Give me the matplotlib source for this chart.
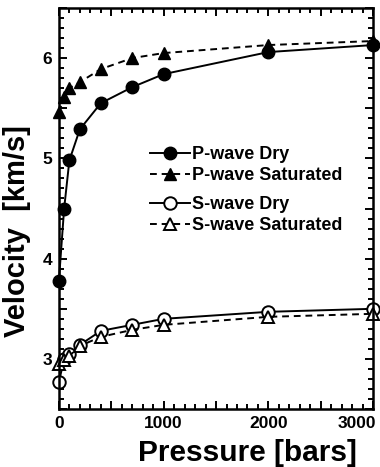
import numpy as np
import matplotlib
matplotlib.use("Agg")
import matplotlib.pyplot as plt
from matplotlib.ticker import MultipleLocator, FuncFormatter

plt.rcParams["font.family"] = ["Liberation Sans", "DejaVu Sans"]
plt.rcParams["font.weight"] = "bold"

# pressure steps (bars)
pressure = [0, 50, 100, 200, 400, 700, 1000, 2000, 3000]

# velocities (km/s)
vp_dry = [3.78, 4.50, 4.98, 5.29, 5.55, 5.71, 5.84, 6.06, 6.13]
vp_sat = [5.46, 5.61, 5.70, 5.76, 5.89, 6.00, 6.05, 6.13, 6.17]
vs_dry = [2.77, 3.00, 3.05, 3.14, 3.28, 3.34, 3.40, 3.47, 3.50]
vs_sat = [2.95, 2.99, 3.03, 3.13, 3.22, 3.29, 3.34, 3.42, 3.45]

x_labelled = [0, 1000, 2000]   # 3000 is drawn flush right below
x_last = 3000

fig = plt.figure(figsize=(3.8, 4.67), dpi=100)
ax = fig.add_axes([0.155, 0.124, 0.827, 0.859])

dash = (0, (3.5, 2.5))
ms = 9
p1, = ax.plot(pressure, vp_dry, "-", color="black", lw=1.4, marker="o", ms=ms,
              mfc="black", mec="black", clip_on=False, label="P-wave Dry")
p2, = ax.plot(pressure, vp_sat, linestyle=dash, color="black", lw=1.4, marker="^", ms=ms,
              mfc="black", mec="black", clip_on=False, label="P-wave Saturated")
s1, = ax.plot(pressure, vs_dry, "-", color="black", lw=1.4, marker="o", ms=ms,
              mfc="white", mec="black", mew=1.4, clip_on=False, label="S-wave Dry")
s2, = ax.plot(pressure, vs_sat, linestyle=dash, color="black", lw=1.4, marker="^", ms=ms,
              mfc="white", mec="black", mew=1.4, clip_on=False, label="S-wave Saturated")

ax.set_xlim(0, 3000)
ax.set_ylim(2.5, 6.5)

ax.xaxis.set_major_locator(MultipleLocator(500))
ax.xaxis.set_minor_locator(MultipleLocator(100))
ax.yaxis.set_major_locator(MultipleLocator(0.5))
ax.yaxis.set_minor_locator(MultipleLocator(0.1))
ax.xaxis.set_major_formatter(FuncFormatter(lambda v, p: f"{int(v)}" if int(v) in x_labelled else ""))
ax.yaxis.set_major_formatter(FuncFormatter(lambda v, p: f"{int(v)}" if v % 1 == 0 else ""))

ax.tick_params(which="both", direction="in", top=True, right=True, width=1.4)
ax.tick_params(which="major", length=6, labelsize=12.5, pad=5)
ax.tick_params(which="minor", length=3.5)
for s in ax.spines.values():
    s.set_linewidth(1.8)

# 3000 label: right-aligned to the spine so it is not cut off
ax.annotate(f"{x_last}", xy=(x_last, 0), xycoords=ax.get_xaxis_transform(),
            xytext=(2, -5), textcoords="offset points", ha="right", va="top",
            fontsize=12.5, fontweight="bold")

ax.set_xlabel("Pressure [bars]", fontsize=21.5, fontweight="bold")
ax.xaxis.set_label_coords(0.6, -0.075)
ax.set_ylabel("Velocity  [km/s]", fontsize=21, fontweight="bold")
ax.yaxis.set_label_coords(-0.09, 0.444)

leg_kw = dict(frameon=False, handlelength=2.2, handletextpad=0.15,
              borderaxespad=0, labelspacing=0.22, borderpad=0,
              prop={"weight": "bold", "size": 13})
leg1 = ax.legend(handles=[p1, p2], loc="upper left", bbox_to_anchor=(0.29, 0.655), **leg_kw)
ax.add_artist(leg1)
ax.legend(handles=[s1, s2], loc="upper left", bbox_to_anchor=(0.29, 0.53), **leg_kw)

fig.savefig("out.png", dpi=100)
